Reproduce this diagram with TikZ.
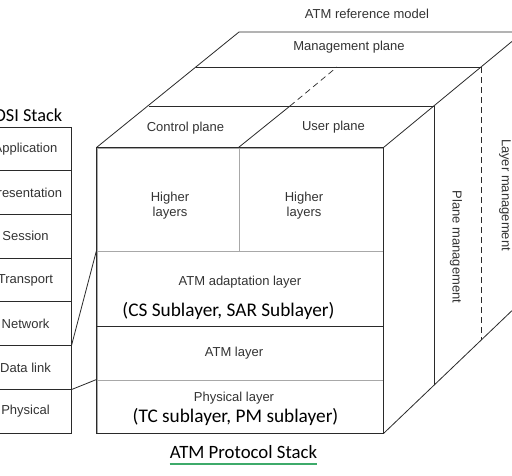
\documentclass[tikz,border=0pt]{standalone}
\usepackage{fontspec}
\setmainfont{Liberation Sans}
\newfontfamily\carlito{Carlito}
\definecolor{linegray}{HTML}{A8A8A8}
\definecolor{edge}{HTML}{2A2A2A}
\definecolor{txt}{HTML}{333333}
\definecolor{ulgreen}{HTML}{3DAA6A}
\begin{document}
\begin{tikzpicture}[x=1pt,y=-1pt,
  edgeline/.style={draw=edge,line width=0.8pt},
  innerline/.style={draw=linegray,line width=1pt},
  dashline/.style={draw=edge,line width=0.7pt,dash pattern=on 6pt off 4pt},
  lbl/.style={font=\fontsize{13}{15}\selectfont,text=txt,inner sep=0pt,align=center},
  sublbl/.style={font=\carlito\fontsize{19.3}{21}\selectfont,text=black,inner sep=0pt},
  osibox/.style={draw=edge,line width=0.8pt,minimum width=91pt,minimum height=43.7pt,inner sep=0pt,
     font=\fontsize{13}{15}\selectfont,text=txt},
  layerbox/.style={innerline,inner sep=0pt,font=\fontsize{13}{15}\selectfont,text=txt,align=center},
  rot/.style={lbl,rotate=-90}
]
\useasboundingbox (0,0) rectangle (512,475);
\clip (0,0) rectangle (512,475);
\fill[white] (0,0) rectangle (512,475);

% ---- OSI stack ----
\node[font=\carlito\fontsize{18.3}{20}\selectfont,inner sep=0pt] (osititle) at (28,115) {OSI Stack};
\node[osibox] (app) at (25.5,148.85) {Application};
\node[osibox] (pres) at (25.5,192.55) {Presentation};
\node[osibox] (sess) at (25.5,236.25) {Session};
\node[osibox] (trans) at (25.5,279.95) {Transport};
\node[osibox] (net) at (25.5,323.65) {Network};
\node[osibox] (dl) at (25.5,367.35) {Data link};
\node[osibox] (phys) at (25.5,411.05) {Physical};

% ---- front face of the cube ----
\node[layerbox,minimum width=142pt,minimum height=103pt] (hl1) at (168,199.5) {};
\node[layerbox,minimum width=144pt,minimum height=103pt] (hl2) at (311,199.5) {};
\node[layerbox,minimum width=286pt,minimum height=75pt] (aal) at (240,288.5) {};
\node[layerbox,minimum width=286pt,minimum height=54pt] (atm) at (240,353) {};
\node[layerbox,minimum width=286pt,minimum height=53pt] (phy) at (240,406.5) {};
\draw[edgeline] (aal.south west) -- (aal.south east);
\draw[edgeline] (hl1.north west) -- (phy.south west) -- (phy.south east) -- (hl2.north east) -- cycle;

\node[lbl] at (170,206) {Higher\\layers};
\node[lbl] at (304,206) {Higher\\layers};
\node[lbl] at (240,282) {ATM adaptation layer};
\node[sublbl] at (228.5,311) {(CS Sublayer, SAR Sublayer)};
\node[lbl] at (234,353) {ATM layer};
\node[lbl] at (234,398) {Physical layer};
\node[sublbl] at (235.5,417) {(TC sublayer, PM sublayer)};

% ---- top face ----
\coordinate (tl) at (239,32);
\coordinate (tr) at (512,32);
\coordinate (m1l) at (196,67);
\coordinate (m1r) at (481,67);
\coordinate (m2l) at (149,106);
\coordinate (m2r) at (434,106);
\coordinate (dv1) at (290,106);
\coordinate (dv2) at (337,67);
\coordinate (rtop) at (512,41.4);
\coordinate (rbot) at (512,310.6);
\coordinate (pmb) at (434,385);
\coordinate (lmb) at (481,340);

\draw[edgeline] (hl1.north west) -- (tl) -- (tr);
\draw[edgeline] (m1l) -- (m1r);
\draw[edgeline] (m2l) -- (m2r);
\draw[edgeline] (hl2.north west) -- (dv1);
\draw[dashline] (dv1) -- (dv2);
\draw[edgeline] (hl2.north east) -- (rtop);

% ---- right side ----
\draw[edgeline] (m2r) -- (pmb);
\draw[dashline] (m1r) -- (lmb);
\draw[edgeline] (phy.south east) -- (rbot);

% ---- labels of planes ----
\node[lbl] at (367,14) {ATM reference model};
\node[lbl] at (349,47) {Management plane};
\node[lbl] at (185.5,128) {Control plane};
\node[lbl] at (333.5,127) {User plane};
\node[rot] at (456,247) {Plane management};
\node[rot] at (505,195) {Layer management};

% ---- connectors from OSI stack ----
\draw[edgeline] (net.south east) -- (aal.north west);
\draw[edgeline] (dl.south east) -- (phy.north west);

% ---- caption ----
\node[font=\carlito\fontsize{18.8}{20}\selectfont,inner sep=0pt] (cap) at (243.5,452) {ATM Protocol Stack};
\coordinate (ulA) at (cap.west |- 0,464);
\coordinate (ulB) at (cap.east |- 0,464);
\draw[ulgreen,line width=2pt] (ulA) -- (ulB);
\end{tikzpicture}
\end{document}
